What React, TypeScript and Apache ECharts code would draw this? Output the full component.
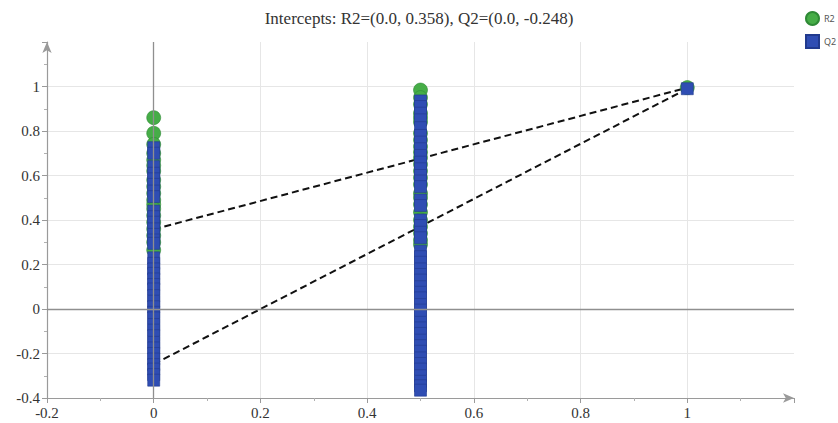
import React, { useEffect, useRef } from "react";
import * as echarts from "echarts";

const TITLE = "Intercepts: R2=(0.0, 0.358), Q2=(0.0, -0.248)";
const SERIES_NAMES = ["R2", "Q2"];

// Permutation columns (correlation of permuted Y with original Y)
const PERM_X = [0, 0.5];

const R2_AT_0 = [0.86, 0.79, 0.74, 0.7, 0.67, 0.645, 0.62, 0.58, 0.55, 0.52, 0.49, 0.47, 0.45, 0.42, 0.39, 0.36, 0.33, 0.3, 0.265];
const Q2_AT_0 = [0.725, 0.7, 0.64, 0.61, 0.585, 0.56, 0.53, 0.505, 0.44, 0.415, 0.39, 0.36, 0.335, 0.31, 0.295, 0.23, 0.205, 0.18, 0.16, 0.135, 0.11, 0.09, 0.06, 0.035, 0.01, -0.015, -0.04, -0.07, -0.095, -0.12, -0.15, -0.175, -0.2, -0.225, -0.25, -0.27, -0.295, -0.32];

const R2_AT_05 = [0.984, 0.95, 0.92, 0.88, 0.86, 0.84, 0.79, 0.76, 0.73, 0.705, 0.68, 0.65, 0.62, 0.59, 0.56, 0.52, 0.5, 0.47, 0.435, 0.4, 0.37, 0.34, 0.31, 0.29];
const Q2_AT_05 = [0.935, 0.91, 0.88, 0.85, 0.815, 0.78, 0.75, 0.72, 0.69, 0.66, 0.63, 0.6, 0.575, 0.55, 0.49, 0.465, 0.4, 0.375, 0.345, 0.32, 0.26, 0.235, 0.21, 0.18, 0.155, 0.13, 0.1, 0.075, 0.05, 0.02, -0.005, -0.03, -0.06, -0.085, -0.11, -0.14, -0.165, -0.19, -0.22, -0.245, -0.27, -0.3, -0.325, -0.345, -0.365];

// Original model
const ORIG_X = 1;
const R2_ORIG = 0.995;
const Q2_ORIG = 0.99;

// Intercepts of the regression lines
const R2_INTERCEPT = 0.358;
const Q2_INTERCEPT = -0.248;

const X_MIN = -0.2, X_MAX = 1.2, Y_MIN = -0.4, Y_MAX = 1.2, STEP = 0.2;

const GREEN = "#46ad47";
const BLUE = "#2f4db3";

export default function App() {
  const ref = useRef<HTMLDivElement>(null);
  useEffect(() => {
    if (!ref.current) return;
    const chart = echarts.init(ref.current, undefined, { renderer: "svg" });
    const r2Data = [
      ...R2_AT_0.map((v) => [PERM_X[0], v]),
      ...R2_AT_05.map((v) => [PERM_X[1], v]),
      [ORIG_X, R2_ORIG],
    ];
    const q2Data = [
      ...Q2_AT_0.map((v) => [PERM_X[0], v]),
      ...Q2_AT_05.map((v) => [PERM_X[1], v]),
      [ORIG_X, Q2_ORIG],
    ];
    const serif = "Liberation Serif";
    const label = {
      color: "#333",
      fontFamily: serif,
      fontSize: 15,
      showMaxLabel: false,
      margin: 7,
      formatter: (v: number) => String(Math.round(v * 10) / 10),
    };
    const axisCommon = {
      type: "value" as const,
      interval: STEP,
      axisLine: {
        show: true,
        onZero: false,
        symbol: ["none", "arrow"],
        symbolSize: [7, 11],
        lineStyle: { color: "#9a9a9a", width: 1.2 },
      },
      axisTick: { show: true, length: 5, lineStyle: { color: "#9a9a9a" } },
      minorTick: { show: true, splitNumber: 2, length: 3, lineStyle: { color: "#b0b0b0" } },
      splitLine: { show: true, showMinLine: false, showMaxLine: false, lineStyle: { color: "#e6e6e6", width: 1 } },
    };
    chart.setOption({
      animation: false,
      backgroundColor: "#fff",
      title: {
        text: TITLE,
        left: "center",
        top: 5,
        textStyle: { fontFamily: serif, fontSize: 17, fontWeight: "normal", color: "#333" },
      },
      legend: {
        orient: "vertical",
        left: 805,
        top: 11,
        itemWidth: 13,
        itemHeight: 13,
        itemGap: 8,
        padding: 0,
        textStyle: { fontSize: 9, color: "#555", fontFamily: "Noto Sans" },
        data: [
          { name: SERIES_NAMES[0], icon: "circle" },
          { name: SERIES_NAMES[1], icon: "rect" },
        ],
      },
      grid: { left: 47, right: 44, top: 42, bottom: 25 },
      xAxis: { ...axisCommon, min: X_MIN, max: X_MAX, axisLabel: { ...label } },
      yAxis: { ...axisCommon, min: Y_MIN, max: Y_MAX, axisLabel: { ...label } },
      series: [
        {
          type: "line",
          data: [],
          silent: true,
          z: 1,
          markLine: {
            silent: true,
            symbol: ["none", "none"],
            label: { show: false },
            lineStyle: { color: "#8f8f8f", type: "solid", width: 1.3 },
            data: [{ yAxis: 0 }, { xAxis: 0 }],
          },
        },
        {
          type: "line",
          data: [[0, R2_INTERCEPT], [ORIG_X, R2_ORIG]],
          symbol: "none",
          silent: true,
          z: 2,
          lineStyle: { color: "#111", width: 2, type: [7, 4] },
        },
        {
          type: "line",
          data: [[0, Q2_INTERCEPT], [ORIG_X, Q2_ORIG]],
          symbol: "none",
          silent: true,
          z: 2,
          lineStyle: { color: "#111", width: 2, type: [7, 4] },
        },
        {
          name: SERIES_NAMES[0],
          type: "scatter",
          symbol: "circle",
          symbolSize: 14,
          z: 3,
          itemStyle: { color: GREEN, borderColor: "#2f8a36", borderWidth: 0.6, opacity: 1 },
          data: r2Data,
        },
        {
          name: SERIES_NAMES[1],
          type: "scatter",
          symbol: "rect",
          symbolSize: 12,
          z: 4,
          itemStyle: { color: BLUE, borderColor: "#213a8e", borderWidth: 0.6, opacity: 1 },
          data: q2Data,
        },
      ],
    });
    return () => chart.dispose();
  }, []);
  return <div ref={ref} style={{ width: 838, height: 423, position: "absolute", left: 0, top: 0 }} />;
}
